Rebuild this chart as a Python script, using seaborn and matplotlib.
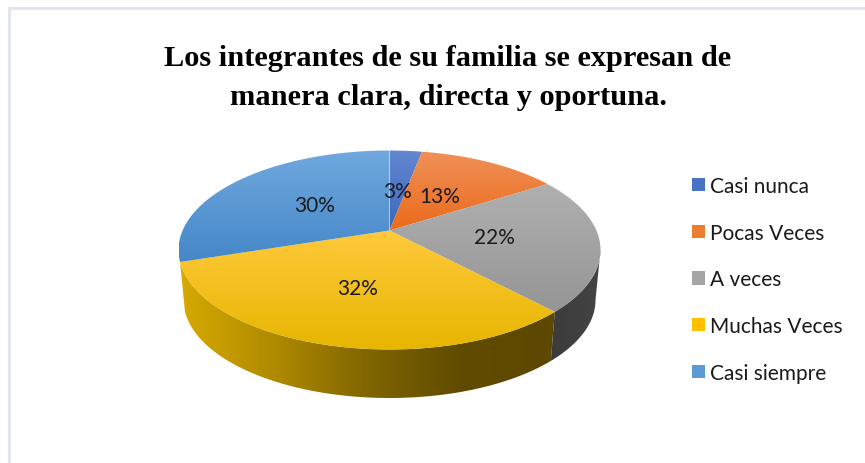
import numpy as np
import matplotlib
matplotlib.use("Agg")
import matplotlib.pyplot as plt
from matplotlib.patches import Patch, Polygon
import seaborn as sns

categories = ["Casi nunca", "Pocas Veces", "A veces", "Muchas Veces", "Casi siempre"]
values = [3, 13, 22, 32, 30]
pct_labels = ["3%", "13%", "22%", "32%", "30%"]
title_text = "Los integrantes de su familia se expresan de\nmanera clara, directa y oportuna."

# (light, dark) of each slice top
top_colors = [("#6388d2", "#3c66bc"), ("#f09058", "#ea6a1a"), ("#b0b0b0", "#959595"),
              ("#ffc93c", "#e6b600"), ("#70a8de", "#4587c8")]
legend_colors = ["#4a72c4", "#ed7d31", "#a5a5a5", "#ffc000", "#5b9bd5"]
wall_colors = [None, None, ("#3c3c3c", "#444444"), ("#d6aa00", "#b08a00", "#806500", "#604b00", "#5c4800"), None]

# the pie in picture pixels, seen in perspective
cx, cy, rx, ry = 389.5, 251, 211, 99.5
cx_low, cy_low, rx_low, ry_low = 389.5, 301, 206, 98
apex = np.array([389.5, 231.5])
persp = 0.82


def to_phi(theta):
    # clockwise angle from the top on the real disc -> angle on the drawn ellipse
    half = np.clip(theta / 2, -89.99, 179.99)
    return 2 * np.degrees(np.unwrap(np.arctan2(persp * np.sin(np.radians(half)), np.cos(np.radians(half)))))


def rim(phi, low=False):
    p = np.radians(phi)
    if low:
        return np.c_[cx_low + rx_low * np.sin(p), cy_low - ry_low * np.cos(p)]
    return np.c_[cx + rx * np.sin(p), cy - ry * np.cos(p)]


def shaded(ax, pts, colors, vertical=True):
    x0, y0 = pts.min(axis=0)
    x1, y1 = pts.max(axis=0)
    cmap = sns.blend_palette(colors, as_cmap=True)
    ramp = np.linspace(0, 1, 256)
    ramp = ramp[:, None] if vertical else ramp[None, :]
    im = ax.imshow(ramp, cmap=cmap, extent=(x0, x1, y1, y0), origin="upper", aspect="auto", zorder=2)
    patch = Polygon(pts, closed=True, transform=ax.transData, fc="none", ec="none")
    ax.add_patch(patch)
    im.set_clip_path(patch)


sns.set_theme(style="white")
plt.rcParams["font.family"] = ["Lato", "DejaVu Sans"]

fig = plt.figure(figsize=(8.65, 4.64), dpi=100)
ax = fig.add_axes([0, 0, 1, 1])
ax.axis("off")

# chart panel border
ax.add_patch(plt.Rectangle((9, 9), 900, 500, fc="white", ec="#dfe4ee", lw=2, zorder=0))

edges = np.cumsum([0] + values) * 3.6

# walls first, so the top face hides what it overlaps
for i in range(len(values)):
    if wall_colors[i] is None:
        continue
    a = max(to_phi(np.array([edges[i]]))[0], 90)
    b = min(to_phi(np.array([edges[i + 1]]))[0], 270)
    phi = np.linspace(a, b, 80)
    pts = np.vstack([rim(phi), rim(phi[::-1], low=True)])
    # right to left on screen, so the ramp runs from the left end
    shaded(ax, pts, wall_colors[i], vertical=False)

for i in range(len(values)):
    theta = np.linspace(edges[i], edges[i + 1], 80)
    pts = np.vstack([apex, rim(to_phi(theta))])
    shaded(ax, pts, top_colors[i])

for i, lab in enumerate(pct_labels):
    mid = (edges[i] + edges[i + 1]) / 2
    p = apex + 0.5 * (rim(to_phi(np.array([mid])))[0] - apex)
    ax.text(p[0], p[1], lab, ha="center", va="center", fontsize=15, color="#1a1a1a", zorder=5)

ax.text(448, 78, title_text, ha="center", va="center", fontsize=21.9, fontweight="bold",
        family=["Liberation Serif"], color="black", linespacing=1.55, zorder=5)

handles = [Patch(fc=c, ec="none") for c in legend_colors]
ax.legend(handles, categories, loc="upper left", bbox_to_anchor=(692 / 865, 1 - 177 / 464), frameon=False,
          fontsize=15, handlelength=0.6, handleheight=0.6, handletextpad=0.25, labelspacing=1.28,
          labelcolor="#1a1a1a", borderpad=0, borderaxespad=0)

ax.set_xlim(0, 865)
ax.set_ylim(464, 0)
fig.savefig("out.png", dpi=100)
